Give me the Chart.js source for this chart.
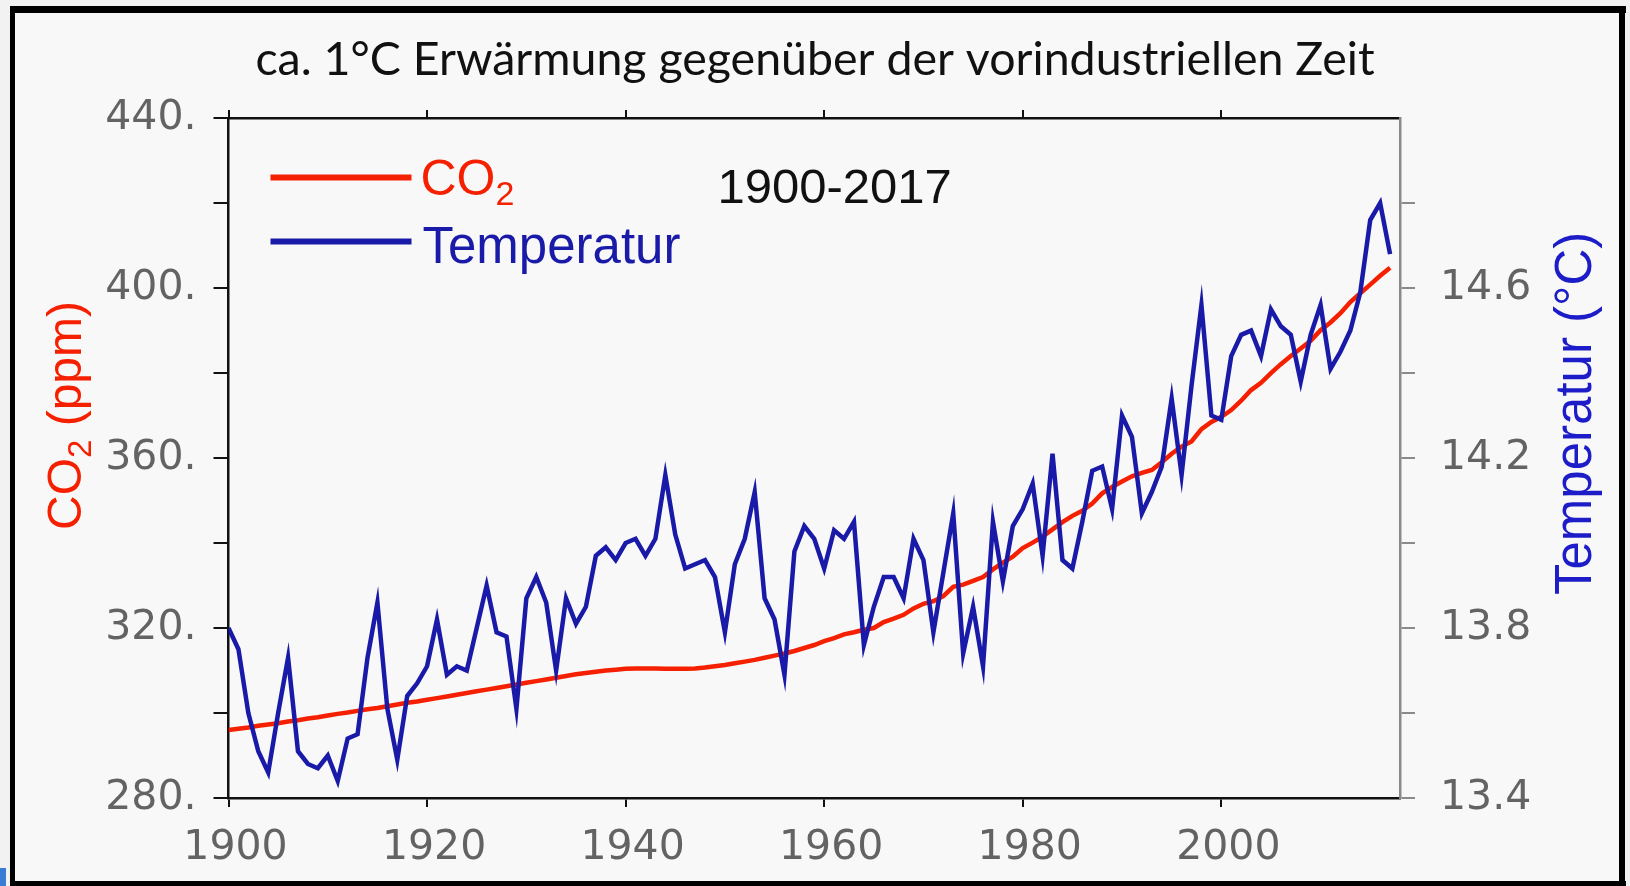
<!DOCTYPE html>
<html lang="de">
<head>
<meta charset="utf-8">
<title>CO2 und Temperatur 1900-2017</title>
<script src="https://cdn.jsdelivr.net/npm/chart.js@4.4.1/dist/chart.umd.min.js"></script>
<style>
  html, body { margin: 0; padding: 0; background: #f2f2f2; }
  #wrap { width: 1630px; height: 886px; }
</style>
</head>
<body>
<div id="wrap"><canvas id="klimaChart" width="1630" height="886"></canvas></div>
<script>
// Daten (Jahreswerte 1900-2017)
const startJahr = 1900;

// Globale Mitteltemperatur in °C
const temperatur = [
  13.80, 13.75, 13.60, 13.51, 13.46, 13.60, 13.73, 13.51, 13.48, 13.47, // 1900-1909
  13.50, 13.44, 13.54, 13.55, 13.73, 13.86, 13.61, 13.49, 13.64, 13.67, // 1910-1919
  13.71, 13.82, 13.69, 13.71, 13.70, 13.80, 13.90, 13.79, 13.78, 13.61, // 1920-1929
  13.87, 13.92, 13.86, 13.70, 13.87, 13.81, 13.85, 13.97, 13.99, 13.96, // 1930-1939
  14.00, 14.01, 13.97, 14.01, 14.16, 14.02, 13.94, 13.95, 13.96, 13.92, // 1940-1949
  13.79, 13.95, 14.01, 14.12, 13.87, 13.82, 13.69, 13.98, 14.04, 14.01, // 1950-1959
  13.94, 14.03, 14.01, 14.05, 13.76, 13.85, 13.92, 13.92, 13.87, 14.01, // 1960-1969
  13.96, 13.79, 13.93, 14.07, 13.74, 13.85, 13.71, 14.05, 13.91, 14.04, // 1970-1979
  14.08, 14.14, 13.97, 14.21, 13.96, 13.94, 14.05, 14.17, 14.18, 14.08, // 1980-1989
  14.30, 14.25, 14.07, 14.12, 14.18, 14.34, 14.16, 14.37, 14.56, 14.30, // 1990-1999
  14.29, 14.44, 14.49, 14.50, 14.44, 14.55, 14.51, 14.49, 14.38, 14.49, // 2000-2009
  14.56, 14.41, 14.45, 14.50, 14.59, 14.76, 14.80, 14.68              // 2010-2017
];

// CO2-Konzentration in ppm
const co2 = [
  296.0, 296.3, 296.6, 297.0, 297.3, 297.6, 298.0, 298.3, 298.7, 299.0,
  299.4, 299.8, 300.1, 300.5, 300.9, 301.2, 301.6, 302.0, 302.4, 302.7,
  303.1, 303.5, 303.9, 304.3, 304.7, 305.1, 305.5, 305.9, 306.3, 306.7,
  307.1, 307.5, 307.9, 308.3, 308.7, 309.1, 309.4, 309.7, 310.0, 310.2,
  310.4, 310.5, 310.5, 310.5, 310.4, 310.4, 310.4, 310.5, 310.7, 311.0,
  311.3, 311.7, 312.1, 312.5, 313.0, 313.5, 314.0, 314.6, 315.3, 316.0,
  316.9, 317.6, 318.5, 319.0, 319.6, 320.0, 321.4, 322.2, 323.1, 324.6,
  325.7, 326.3, 327.5, 329.7, 330.2, 331.1, 332.0, 333.8, 335.4, 336.8,
  338.8, 340.1, 341.5, 343.2, 344.9, 346.4, 347.6, 349.3, 351.7, 353.2,
  354.5, 355.7, 356.5, 357.2, 359.0, 361.0, 362.7, 363.9, 366.8, 368.5,
  369.7, 371.3, 373.5, 376.0, 377.7, 380.0, 382.1, 384.0, 385.8, 387.6,
  390.1, 391.9, 394.1, 396.7, 398.8, 400.8, 402.9, 404.8
];

// Achsen
const xTicks = [1900, 1920, 1940, 1960, 1980, 2000];
const co2Ticks = [280, 300, 320, 340, 360, 380, 400, 420, 440];
const co2Labels = [280, 320, 360, 400, 440];
const tempTicks = [13.4, 13.6, 13.8, 14.0, 14.2, 14.4, 14.6, 14.8];
const tempLabels = ['13.4', '13.8', '14.2', '14.6'];

const titel = 'ca. 1°C Erwärmung gegenüber der vorindustriellen Zeit';
const zeitraum = '1900-2017';

const jahre = temperatur.map((_, i) => startJahr + i);

const ROT = '#f52000';
const BLAU = '#1a1aa8';
const TICKFARBE = '#636363';
const TICKFONT = { family: '"DejaVu Sans"', size: 41 };

// Text mit tiefgestelltem Teil (CO2)
function textMitIndex(c, teile, x, y, size, farbe) {
  c.fillStyle = farbe;
  c.textAlign = 'left';
  c.textBaseline = 'alphabetic';
  let px = x;
  teile.forEach(([t, sub]) => {
    const s = sub ? Math.round(size * 0.68) : size;
    c.font = `${s}px "Liberation Sans"`;
    c.fillText(t, px, sub ? y + size * 0.2 : y);
    px += c.measureText(t).width;
  });
}

// Rahmen, Legende, Achsentitel
const deko = {
  id: 'deko',
  beforeDraw(chart) {
    const c = chart.ctx;
    c.save();
    c.fillStyle = '#f8f8f8';
    c.fillRect(12, 10, 1610, 872);
    c.fillStyle = '#000';
    c.fillRect(10, 6, 1616, 7);
    c.fillRect(10, 6, 5, 880);
    c.fillRect(1619, 6, 6, 880);
    c.fillRect(10, 881, 1616, 5);
    c.fillStyle = '#3a7bd5';
    c.fillRect(0, 868, 6, 18);
    c.restore();
  },
  afterDraw(chart) {
    const c = chart.ctx;
    const a = chart.chartArea;
    c.save();

    // Legende
    c.lineWidth = 6;
    c.lineCap = 'butt';
    c.strokeStyle = ROT;
    c.beginPath(); c.moveTo(a.left + 42, a.top + 59.5); c.lineTo(a.left + 183, a.top + 59.5); c.stroke();
    c.strokeStyle = BLAU;
    c.beginPath(); c.moveTo(a.left + 42, a.top + 123.5); c.lineTo(a.left + 183, a.top + 123.5); c.stroke();
    textMitIndex(c, [['CO', false], ['2', true]], a.left + 192, a.top + 77, 50, ROT);
    textMitIndex(c, [['Temperatur', false]], a.left + 194, a.top + 145, 51, BLAU);

    // Zeitraum
    textMitIndex(c, [[zeitraum, false]], a.left + 489, a.top + 84.5, 49, '#111');

    // linker Achsentitel
    c.save();
    c.translate(81, 530);
    c.rotate(-Math.PI / 2);
    textMitIndex(c, [['CO', false], ['2', true], [' (ppm)', false]], 0, 0, 48, ROT);
    c.restore();

    // rechter Achsentitel
    c.save();
    c.translate(1591, 595);
    c.rotate(-Math.PI / 2);
    textMitIndex(c, [['Temperatur (°C)', false]], 0, 0, 51, '#1c1cc8');
    c.restore();

    c.restore();
  }
};

const ctx = document.getElementById('klimaChart').getContext('2d');

new Chart(ctx, {
  type: 'line',
  data: {
    datasets: [
      {
        label: 'Temperatur',
        data: jahre.map((j, i) => ({ x: j, y: temperatur[i] })),
        yAxisID: 'yT',
        borderColor: BLAU,
        borderWidth: 4.5,
        pointRadius: 0,
        tension: 0,
        order: 0
      },
      {
        label: 'CO2',
        data: jahre.map((j, i) => ({ x: j, y: co2[i] })),
        yAxisID: 'yCO2',
        borderColor: ROT,
        borderWidth: 4.5,
        pointRadius: 0,
        tension: 0,
        order: 1
      }
    ]
  },
  options: {
    responsive: false,
    devicePixelRatio: 1,
    animation: false,
    layout: { padding: 0 },
    plugins: {
      legend: { display: false },
      tooltip: { enabled: false },
      title: {
        display: true,
        text: titel,
        color: '#111',
        font: { family: 'Lato', size: 46.5, weight: 'normal' },
        padding: { top: 32, bottom: 10 }
      }
    },
    scales: {
      x: {
        type: 'linear',
        position: 'bottom',
        min: 1900,
        max: 2018,
        afterBuildTicks: ax => { ax.ticks = xTicks.map(v => ({ value: v })); },
        afterFit: ax => { ax.height = 88; },
        ticks: {
          font: TICKFONT,
          color: TICKFARBE,
          padding: 17,
          labelOffset: 7,
          maxRotation: 0,
          autoSkip: false,
          callback: v => String(v)
        },
        grid: { drawOnChartArea: false, tickLength: 9, color: '#111', lineWidth: 2 },
        border: { color: '#111', width: 2.5 }
      },
      xOben: {
        type: 'linear',
        position: 'top',
        min: 1900,
        max: 2018,
        afterBuildTicks: ax => { ax.ticks = xTicks.map(v => ({ value: v })); },
        afterFit: ax => { ax.height = 20.3; },
        ticks: { display: false },
        grid: { drawOnChartArea: false, tickLength: 8, color: '#111', lineWidth: 2 },
        border: { color: '#111', width: 2.5 }
      },
      yCO2: {
        type: 'linear',
        position: 'left',
        min: 280,
        max: 440,
        afterBuildTicks: ax => { ax.ticks = co2Ticks.map(v => ({ value: v })); },
        afterFit: ax => { ax.width = 228.5; },
        ticks: {
          font: TICKFONT,
          color: TICKFARBE,
          padding: 17,
          callback: v => co2Labels.includes(v) ? v + '.' : ''
        },
        grid: { drawOnChartArea: false, tickLength: 15, color: '#111', lineWidth: 2 },
        border: { color: '#111', width: 2.5 }
      },
      yT: {
        type: 'linear',
        position: 'right',
        min: 13.4,
        max: 15.0,
        afterBuildTicks: ax => { ax.ticks = tempTicks.map(v => ({ value: v })); },
        afterFit: ax => { ax.width = 230; },
        ticks: {
          font: TICKFONT,
          color: TICKFARBE,
          padding: 25,
          callback: v => tempLabels.includes(v.toFixed(1)) ? v.toFixed(1) : ''
        },
        grid: { drawOnChartArea: false, tickLength: 15, color: '#8a8a8a', lineWidth: 2 },
        border: { color: '#8a8a8a', width: 2.5 }
      }
    }
  },
  plugins: [deko]
});
</script>
</body>
</html>
